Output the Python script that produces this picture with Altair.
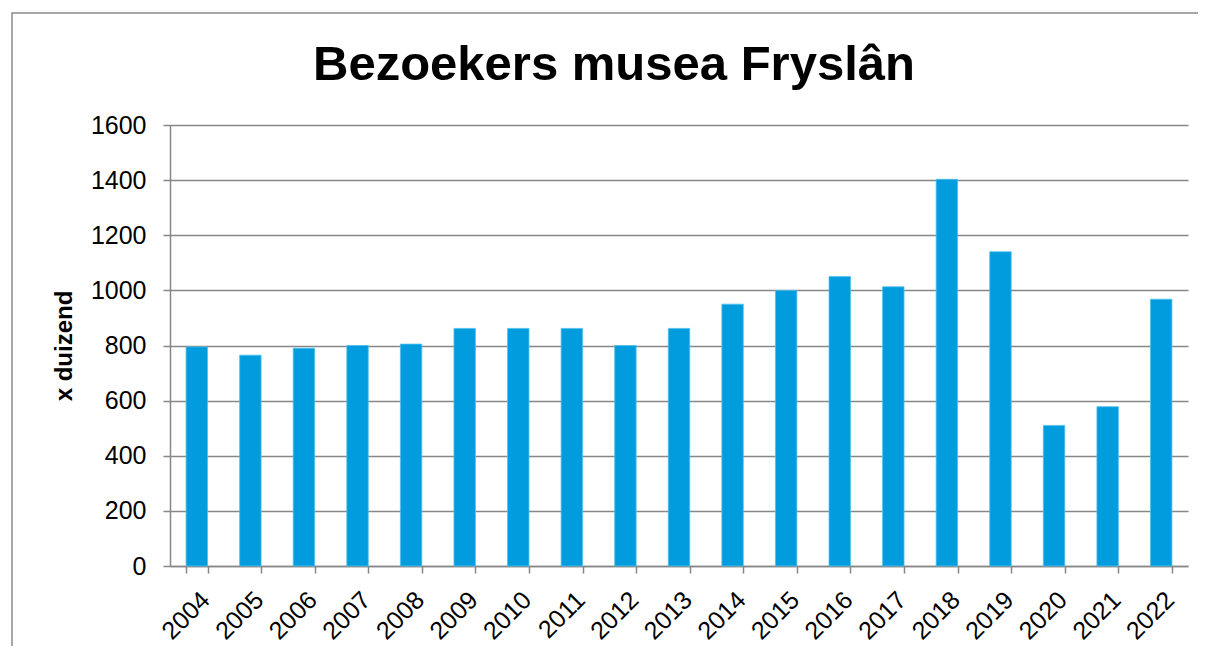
import altair as alt
import pandas as pd

years = [str(y) for y in range(2004, 2023)]
visitors = [795, 765, 790, 800, 805, 862, 862, 862, 800, 862, 950, 1000, 1050, 1013, 1403, 1140, 510, 578, 968]
y_ticks = [0, 200, 400, 600, 800, 1000, 1200, 1400, 1600]

title_text = "Bezoekers musea Fryslân"
y_title = "x duizend"

df = pd.DataFrame({"jaar": years, "bezoekers": visitors})
frame_df = pd.DataFrame({"k": [0]})
title_df = pd.DataFrame({"t": [title_text]})

FONT = "Liberation Sans"
GRID = "#878787"

bars = alt.Chart(df).mark_bar(color="#009CDE", stroke="#4FC0EC", strokeWidth=0.8).encode(
    x=alt.X("jaar:N", sort=years,
            scale=alt.Scale(paddingInner=0.6, paddingOuter=0.3),
            axis=alt.Axis(title=None, labelAngle=-45, labelFontSize=25, labelFont=FONT,
                          labelColor="#000000", tickBand="extent", tickSize=7,
                          tickColor=GRID, tickWidth=1.5, domainColor=GRID, domainWidth=1.5,
                          labelPadding=14, grid=False)),
    y=alt.Y("bezoekers:Q", scale=alt.Scale(domain=[0, 1600], nice=False),
            axis=alt.Axis(title=y_title, values=y_ticks, format="d", labelFontSize=25,
                          labelFont=FONT, labelColor="#000000", titleFont=FONT,
                          titleFontSize=24, titleFontWeight="bold", titleColor="#000000",
                          titlePadding=14, tickSize=7, tickColor=GRID, tickWidth=1.5,
                          labelPadding=17, domainColor=GRID, domainWidth=1.5,
                          gridColor=GRID, gridWidth=1.5)),
)

border = alt.Chart(frame_df).mark_rect(filled=False, stroke="#8a8a8a", strokeWidth=1.5).encode(
    x=alt.value(-158), x2=alt.value(1060), y=alt.value(-112), y2=alt.value(620)
)

title = alt.Chart(title_df).mark_text(font=FONT, fontSize=49, fontWeight="bold", color="#000000",
                                      align="center", baseline="alphabetic").encode(
    text="t:N", x=alt.value(444), y=alt.value(-45)
)

chart = alt.layer(border, bars, title).properties(
    width=1018, height=441,
    padding={"left": 162, "top": 117, "right": 10, "bottom": 80},
    autosize=alt.AutoSizeParams(type="none"),
).configure_view(stroke=None)

chart.save("out.html", embed_options={"renderer": "svg", "actions": False})
